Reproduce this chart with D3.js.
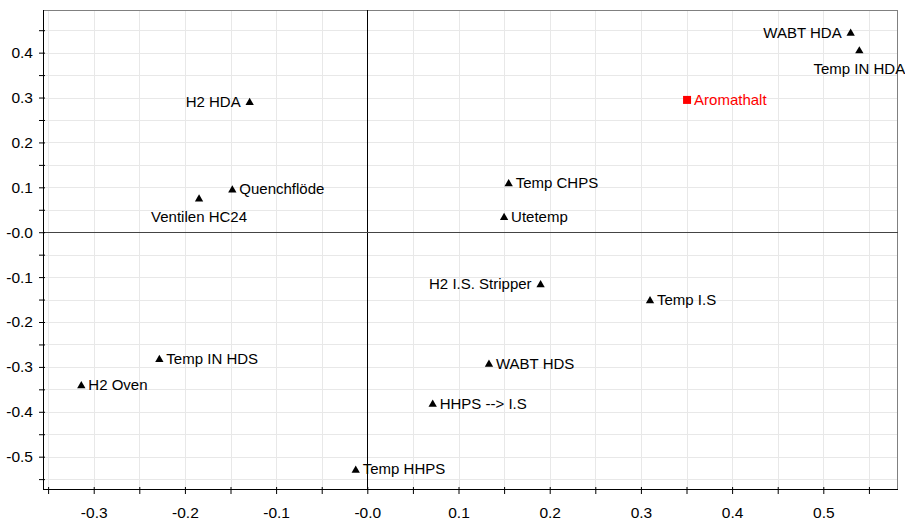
<!DOCTYPE html>
<html>
<head>
<meta charset="utf-8">
<script src="https://cdn.jsdelivr.net/npm/d3@7"></script>
<style>
  html, body { margin: 0; padding: 0; background: #fff; }
  svg { display: block; }
</style>
</head>
<body>
<div id="chart"></div>
<script>
// Loading plot — variables vs. Aromathalt

const FONT = "'Liberation Sans', Arial, sans-serif";
const GRID = '#e8e8e8';
const BORDER = '#808080';

const labels = [
  'H2 HDA', 'Quenchflöde', 'Ventilen HC24', 'H2 Oven', 'Temp IN HDS',
  'WABT HDA', 'Temp IN HDA', 'Temp CHPS', 'Utetemp', 'H2 I.S. Stripper',
  'WABT HDS', 'HHPS --> I.S', 'Temp HHPS', 'Temp I.S'
];
const xValues = [
  -0.129, -0.148, -0.1845, -0.3136, -0.228,
  0.530, 0.5395, 0.155, 0.150, 0.190,
  0.1334, 0.0717, -0.0127, 0.310
];
const yValues = [
  0.291, 0.096, 0.076, -0.340, -0.2815,
  0.4454, 0.406, 0.110, 0.0347, -0.115,
  -0.292, -0.381, -0.528, -0.1508
];
// where the label sits relative to its marker
const labelSide = [
  'left', 'right', 'below', 'right', 'right',
  'left', 'below', 'right', 'right', 'left',
  'right', 'right', 'right', 'right'
];

const responseLabel = 'Aromathalt';
const responseX = 0.3506;
const responseY = 0.2947;

const xDomain = [-0.3556, 0.5819];
const yDomain = [-0.572, 0.495];
const xTicks = [-0.3, -0.2, -0.1, 0, 0.1, 0.2, 0.3, 0.4, 0.5];
const xTickLabels = ['-0.3', '-0.2', '-0.1', '-0.0', '0.1', '0.2', '0.3', '0.4', '0.5'];
const yTicks = [-0.5, -0.4, -0.3, -0.2, -0.1, 0, 0.1, 0.2, 0.3, 0.4];
const yTickLabels = ['-0.5', '-0.4', '-0.3', '-0.2', '-0.1', '-0.0', '0.1', '0.2', '0.3', '0.4'];
const xMinor = [-0.35, -0.25, -0.15, -0.05, 0.05, 0.15, 0.25, 0.35, 0.45, 0.55];
const yMinor = [-0.55, -0.45, -0.35, -0.25, -0.15, -0.05, 0.05, 0.15, 0.25, 0.35, 0.45];

const W = 905, H = 521;
const margin = { top: 10, right: 7, bottom: 32, left: 43 };
const width = W - margin.left - margin.right;
const height = H - margin.top - margin.bottom;

const svg = d3.select('#chart').append('svg')
  .attr('width', W).attr('height', H);

const g = svg.append('g')
  .attr('transform', `translate(${margin.left},${margin.top})`);

const x = d3.scaleLinear().domain(xDomain).range([0, width]);
const y = d3.scaleLinear().domain(yDomain).range([height, 0]);

// Gridlines every 0.05
const xGrid = xTicks.concat(xMinor);
const yGrid = yTicks.concat(yMinor);
g.append('g').selectAll('line').data(xGrid).join('line')
  .attr('x1', d => Math.round(x(d)) + 0.5).attr('x2', d => Math.round(x(d)) + 0.5)
  .attr('y1', 0).attr('y2', height)
  .attr('stroke', GRID).attr('stroke-width', 1);
g.append('g').selectAll('line').data(yGrid).join('line')
  .attr('y1', d => Math.round(y(d)) + 0.5).attr('y2', d => Math.round(y(d)) + 0.5)
  .attr('x1', 0).attr('x2', width)
  .attr('stroke', GRID).attr('stroke-width', 1);

// Top / right border
g.append('line')
  .attr('x1', 0).attr('x2', width).attr('y1', 0.5).attr('y2', 0.5)
  .attr('stroke', BORDER);
g.append('line')
  .attr('x1', width - 0.5).attr('x2', width - 0.5).attr('y1', 0).attr('y2', height)
  .attr('stroke', BORDER);

// Zero lines
g.append('line')
  .attr('x1', Math.round(x(0)) + 0.5).attr('x2', Math.round(x(0)) + 0.5)
  .attr('y1', 0).attr('y2', height)
  .attr('stroke', '#000');
g.append('line')
  .attr('y1', Math.round(y(0)) + 0.5).attr('y2', Math.round(y(0)) + 0.5)
  .attr('x1', 0).attr('x2', width)
  .attr('stroke', '#444');

// Axes
const xAxis = g.append('g')
  .attr('transform', `translate(0,${height})`)
  .call(d3.axisBottom(x).tickValues(xTicks.concat(xMinor).sort(d3.ascending))
    .tickSize(6).tickPadding(12)
    .tickFormat(d => {
      const i = xTicks.findIndex(t => Math.abs(t - d) < 1e-9);
      return i >= 0 ? xTickLabels[i] : '';
    }));
xAxis.select('.domain').attr('stroke', '#000').attr('d', `M0,0.5H${width}`);
xAxis.selectAll('.tick line').attr('stroke', '#000').attr('y1', -2).attr('y2', 5);
xAxis.selectAll('text')
  .style('font-family', FONT).style('font-size', '15.5px').attr('fill', '#000');

const yAxis = g.append('g')
  .call(d3.axisLeft(y).tickValues(yTicks.concat(yMinor).sort(d3.ascending))
    .tickSize(5).tickPadding(5)
    .tickFormat(d => {
      const i = yTicks.findIndex(t => Math.abs(t - d) < 1e-9);
      return i >= 0 ? yTickLabels[i] : '';
    }));
yAxis.select('.domain').attr('stroke', '#000').attr('d', `M0.5,0V${height}`);
yAxis.selectAll('.tick line').attr('stroke', '#000').attr('x1', 2).attr('x2', -4);
yAxis.selectAll('text')
  .style('font-family', FONT).style('font-size', '15.5px').attr('fill', '#000');

// Variable markers
const tri = d3.symbol().type(d3.symbolTriangle).size(30);
const pts = labels.map((name, i) => ({ name, x: xValues[i], y: yValues[i], side: labelSide[i] }));

const pg = g.append('g').selectAll('g').data(pts).join('g')
  .attr('transform', d => `translate(${x(d.x)},${y(d.y)})`);

pg.append('path')
  .attr('d', tri)
  .attr('transform', 'translate(0,1)')
  .attr('fill', '#000');

pg.append('text')
  .attr('x', d => d.side === 'right' ? 7 : d.side === 'left' ? -9 : 0)
  .attr('y', d => d.side === 'below' ? 19 : 0)
  .attr('dy', '0.35em')
  .attr('text-anchor', d => d.side === 'right' ? 'start' : d.side === 'left' ? 'end' : 'middle')
  .style('font-family', FONT)
  .style('font-size', '15px')
  .attr('fill', '#000')
  .text(d => d.name);

// Response (red square)
const rg = g.append('g')
  .attr('transform', `translate(${x(responseX)},${y(responseY)})`);
rg.append('rect')
  .attr('x', -4).attr('y', -4).attr('width', 8).attr('height', 8)
  .attr('fill', '#ff0000');
rg.append('text')
  .attr('x', 7).attr('dy', '0.35em')
  .style('font-family', FONT).style('font-size', '15px')
  .attr('fill', '#ff0000')
  .text(responseLabel);
</script>
</body>
</html>
